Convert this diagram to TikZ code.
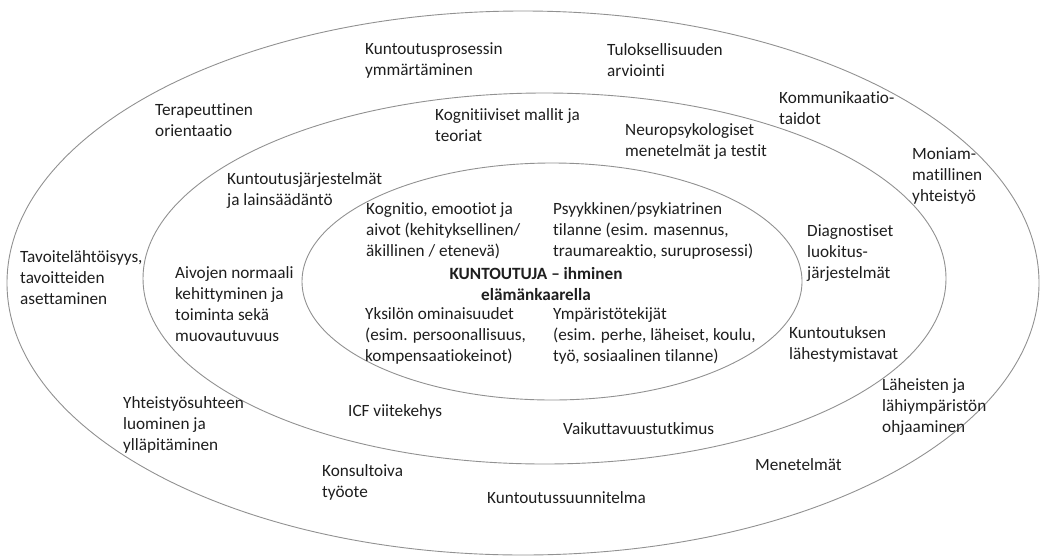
\documentclass[tikz,border=0pt]{standalone}
\usepackage{fontspec}
\setmainfont[Ligatures={NoCommon}]{Carlito}
\usepackage{xcolor}
\usepackage{tikz}
\definecolor{ringgray}{RGB}{145,145,145}
\definecolor{textgray}{RGB}{30,30,30}
\tikzset{
    ring/.style={draw=ringgray, line width=0.9pt},
    lbl/.style={anchor=west, align=left, inner sep=0pt, text=textgray,
        font=\fontsize{17.2}{21}\selectfont},
}

\begin{document}
\begin{tikzpicture}[x=1pt,y=-1pt]
    \useasboundingbox (0,0) rectangle (1040,557);

    \draw[ring] (523,283) ellipse [x radius=516pt, y radius=272pt];
    \draw[ring] (544.5,278.5) ellipse [x radius=401.5pt, y radius=185.5pt];
    \draw[ring] (552,281.5) ellipse [x radius=250pt, y radius=118.5pt];

    \node[lbl] (prosessi) at (365,60.5) {Kuntoutusprosessin\\ymmärtäminen};
    \node[lbl] (tulos) at (607,60.5) {Tuloksellisuuden\\arviointi};
    \node[lbl] (terapia) at (155,120.5) {Terapeuttinen\\orientaatio};
    \node[lbl] (kommun) at (779,108.5) {Kommunikaatio-\\taidot};
    \node[lbl] (moniam) at (912,176) {Moniam-\\matillinen\\yhteistyö};
    \node[lbl] (tavoite) at (20,278) {Tavoitelähtöisyys,\\tavoitteiden\\asettaminen};
    \node[lbl] (yhteis) at (123,425) {Yhteistyösuhteen\\luominen ja\\ylläpitäminen};
    \node[lbl] (laheiset) at (882,407) {Läheisten ja\\lähiympäristön\\ohjaaminen};
    \node[lbl] (konsult) at (322,482.5) {Konsultoiva\\työote};
    \node[lbl] (suunn) at (487,498) {Kuntoutussuunnitelma};
    \node[lbl] (menet) at (755,465) {Menetelmät};

    \node[lbl] (malli) at (435,125.5) {Kognitiiviset mallit ja\\teoriat};
    \node[lbl] (neuro) at (625,141.5) {Neuropsykologiset\\menetelmät ja testit};
    \node[lbl] (jarj) at (227,190.5) {Kuntoutusjärjestelmät\\ja lainsäädäntö};
    \node[lbl] (diagn) at (807,253) {Diagnostiset\\luokitus-\\järjestelmät};
    \node[lbl] (aivot) at (175,304.5) {Aivojen normaali\\kehittyminen ja\\toiminta sekä\\muovautuvuus};
    \node[lbl] (lahest) at (789,344.5) {Kuntoutuksen\\lähestymistavat};
    \node[lbl] (icf) at (348,412) {ICF viitekehys};
    \node[lbl] (vaikut) at (563,429) {Vaikuttavuustutkimus};

    \node[lbl] (kognitio) at (366,231) {Kognitio, emootiot ja\\aivot (kehityksellinen/\\äkillinen / etenevä)};
    \node[lbl] (psyyk) at (553,231) {Psyykkinen/psykiatrinen\\tilanne (esim. masennus,\\traumareaktio, suruprosessi)};
    \node[lbl, anchor=center, align=center, font=\fontsize{17.2}{21}\selectfont\bfseries] (kuntoutuja) at (536,284) {KUNTOUTUJA – ihminen\\elämänkaarella};
    \node[lbl] (yksilo) at (365,336) {Yksilön ominaisuudet\\(esim. persoonallisuus,\\kompensaatiokeinot)};
    \node[lbl] (ymparisto) at (553,336) {Ympäristötekijät\\(esim. perhe, läheiset, koulu,\\työ, sosiaalinen tilanne)};
\end{tikzpicture}
\end{document}
